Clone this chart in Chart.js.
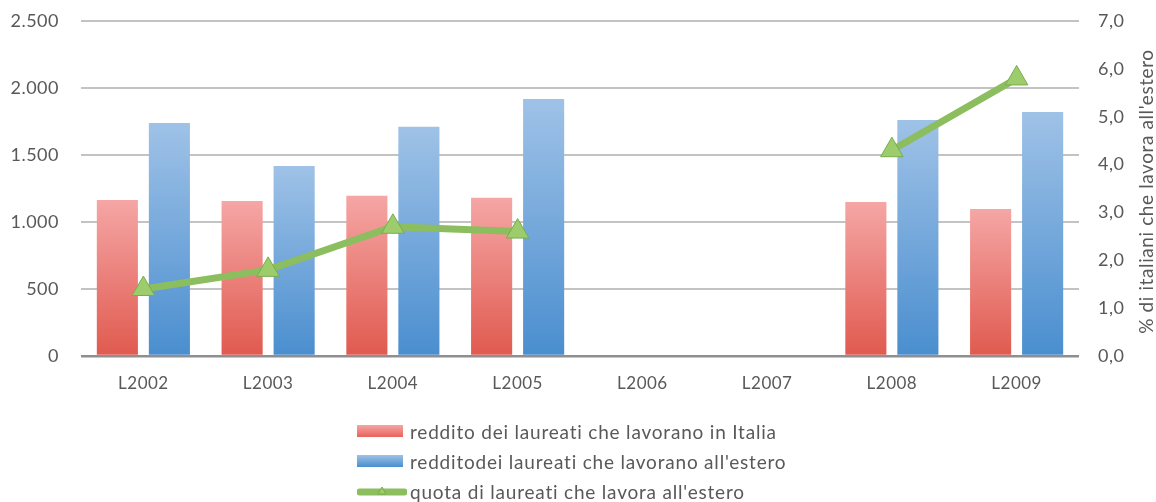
<!DOCTYPE html>
<html>
<head>
<meta charset="utf-8">
<script src="https://cdn.jsdelivr.net/npm/chart.js@4.4.1/dist/chart.umd.min.js"></script>
<style>
  html, body { margin: 0; padding: 0; background: #fff; }
  #wrap { position: relative; width: 1156px; height: 502px; }
  #legend {
    position: absolute; left: 357px; top: 416px;
    font-family: Lato, sans-serif; font-size: 19px; letter-spacing: 0.8px; color: #595959;
  }
  .item { height: 30px; display: flex; align-items: center; white-space: nowrap; }
  .item svg { margin-right: 3px; }
</style>
</head>
<body>
<div id="wrap">
  <canvas id="redditiChart" width="1156" height="502"></canvas>
  <div id="legend"></div>
</div>
<script>
const categories = ["L2002", "L2003", "L2004", "L2005", "L2006", "L2007", "L2008", "L2009"];
const redditoItalia = [1164, 1157, 1196, 1181, null, null, 1149, 1097];
const redditoEstero = [1739, 1418, 1711, 1918, null, null, 1761, 1821];
const quotaEstero = [1.4, 1.8, 2.7, 2.6, null, null, 4.3, 5.8];

const seriesNames = [
  "reddito dei laureati che lavorano in Italia",
  "redditodei laureati che lavorano all'estero",
  "quota di laureati che lavora all'estero"
];
const rightTitle = "% di italiani che lavora all'estero";

const TEXT = "#595959";
const FONT = "Lato, sans-serif";

// vertical gradient per bar, light at the top
function barGradient(top, bottom) {
  return (context) => {
    const chart = context.chart;
    if (!chart.chartArea || context.raw == null) return bottom;
    const y = chart.scales.y;
    const y0 = y.getPixelForValue(context.raw);
    const y1 = y.getPixelForValue(0);
    const g = chart.ctx.createLinearGradient(0, y0, 0, y1);
    g.addColorStop(0, top);
    g.addColorStop(1, bottom);
    return g;
  };
}

// fixed side widths; tick padding should not push the plot down
function sideFit(width) {
  return (s) => {
    s.width = width;
    s.paddingTop = 0;
    s.paddingBottom = 0;
  };
}

// wider tracking for the canvas text
const spacingPlugin = {
  id: "spacing",
  beforeUpdate(chart) { chart.ctx.letterSpacing = "0.5px"; },
  beforeDraw(chart) { chart.ctx.letterSpacing = "0.5px"; },
};

// right axis title, read bottom to top
const rightTitlePlugin = {
  id: "rightTitle",
  afterDraw(chart) {
    const { ctx, chartArea } = chart;
    ctx.save();
    ctx.translate(1147, (chartArea.top + chartArea.bottom) / 2 + 3);
    ctx.rotate(-Math.PI / 2);
    ctx.font = "19px " + FONT;
    ctx.letterSpacing = "0.6px";
    ctx.fillStyle = TEXT;
    ctx.textAlign = "center";
    ctx.textBaseline = "middle";
    ctx.fillText(rightTitle, 0, 0);
    ctx.restore();
  },
};

const ctx = document.getElementById("redditiChart").getContext("2d");

const chart = new Chart(ctx, {
  type: "bar",
  data: {
    labels: categories,
    datasets: [
      {
        type: "line",
        label: seriesNames[2],
        data: quotaEstero,
        yAxisID: "y1",
        borderColor: "#8cbd5e",
        borderWidth: 7,
        backgroundColor: "#9dcc6c",
        pointStyle: "triangle",
        pointRadius: 13,
        pointBorderColor: "#79ad4c",
        pointBorderWidth: 1,
        pointBackgroundColor: "#9dcc6c",
        spanGaps: false,
        order: 0,
      },
      {
        label: seriesNames[0],
        data: redditoItalia,
        yAxisID: "y",
        backgroundColor: barGradient("#f5a6a5", "#e05a4f"),
        categoryPercentage: 0.834,
        barPercentage: 0.79,
        order: 1,
      },
      {
        label: seriesNames[1],
        data: redditoEstero,
        yAxisID: "y",
        backgroundColor: barGradient("#9fc2e7", "#4a8ecf"),
        categoryPercentage: 0.834,
        barPercentage: 0.79,
        order: 1,
      },
    ],
  },
  options: {
    responsive: false,
    animation: false,
    layout: { autoPadding: false, padding: { top: 21, bottom: 106, left: 0, right: 0 } },
    plugins: {
      legend: { display: false },
      tooltip: { enabled: false },
    },
    scales: {
      x: {
        grid: { display: false },
        border: { display: false },
        ticks: { color: TEXT, font: { family: FONT, size: 17 }, padding: 9 },
        afterFit: (s) => { s.height = 40; },
      },
      y: {
        position: "left",
        min: 0,
        max: 2500,
        ticks: {
          stepSize: 500,
          color: TEXT,
          padding: 22,
          font: { family: FONT, size: 18 },
          callback: (v) => String(v).replace(/\B(?=(\d{3})+(?!\d))/g, "."),
        },
        grid: {
          drawTicks: false,
          color: (c) => (c.tick && c.tick.value === 0 ? "#8f8f8f" : "#c3c3c3"),
          lineWidth: (c) => (c.tick && c.tick.value === 0 ? 2.5 : 2),
        },
        border: { display: false },
        afterFit: sideFit(81),
      },
      y1: {
        position: "right",
        min: 0,
        max: 7,
        ticks: {
          stepSize: 1,
          color: TEXT,
          padding: 19,
          font: { family: FONT, size: 18 },
          callback: (v) => v.toFixed(1).replace(".", ","),
        },
        grid: { display: false, drawTicks: false },
        border: { display: false },
        afterFit: sideFit(77),
      },
    },
  },
  plugins: [spacingPlugin, rightTitlePlugin],
});

// legend rows built from the chart's datasets
const legendEl = document.getElementById("legend");
const svgNS = "http://www.w3.org/2000/svg";
[1, 2, 0].forEach((i) => {
  const ds = chart.data.datasets[i];
  const row = document.createElement("div");
  row.className = "item";
  let swatch;
  if (ds.type === "line") {
    swatch = `<svg width="50" height="14" xmlns="${svgNS}">
      <line x1="3" y1="8" x2="47" y2="8" stroke="${ds.borderColor}" stroke-width="7" stroke-linecap="round"/>
      <polygon points="25,3 29,10 21,10" fill="${ds.pointBackgroundColor}" stroke="${ds.pointBorderColor}" stroke-width="1"/>
    </svg>`;
  } else {
    const colors = i === 1 ? ["#f5a6a5", "#e9625a"] : ["#9fc2e7", "#4a8ecf"];
    swatch = `<svg width="50" height="14" xmlns="${svgNS}">
      <defs><linearGradient id="g${i}" x1="0" y1="0" x2="0" y2="1">
        <stop offset="0" stop-color="${colors[0]}"/><stop offset="1" stop-color="${colors[1]}"/>
      </linearGradient></defs>
      <rect x="0" y="1" width="46" height="12" fill="url(#g${i})"/>
    </svg>`;
  }
  row.innerHTML = swatch + "<span>" + ds.label + "</span>";
  legendEl.appendChild(row);
});
</script>
</body>
</html>
